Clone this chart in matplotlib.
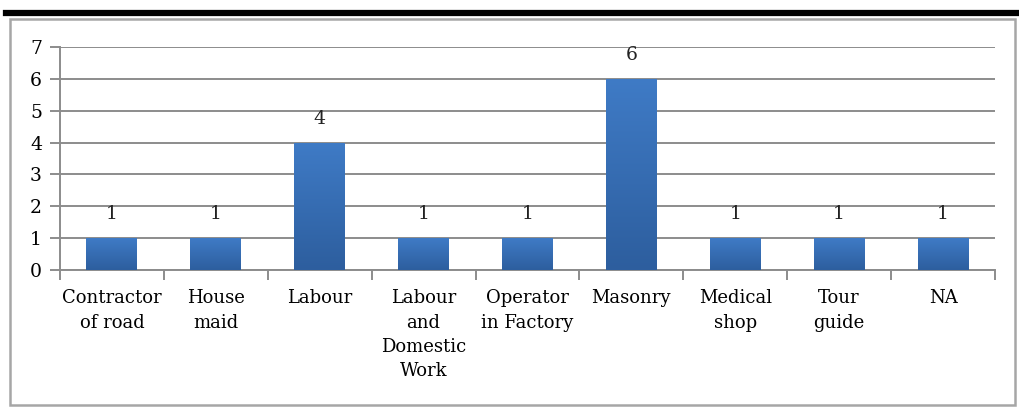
import numpy as np
import matplotlib.pyplot as plt
import matplotlib.ticker as mticker
from matplotlib.patches import Rectangle
from matplotlib.lines import Line2D


categories = ["Contractor\nof road", "House\nmaid", "Labour", "Labour\nand\nDomestic\nWork",
              "Operator\nin Factory", "Masonry", "Medical\nshop", "Tour\nguide", "NA"]
counts = [1, 1, 4, 1, 1, 6, 1, 1, 1]

plt.rcParams['font.family'] = ['DejaVu Serif']

fig = plt.figure(figsize=[10.2, 4.07], dpi=100)
ax = fig.add_axes([0.0588, 0.3366, 0.9167, 0.548])

# outer frame and heavy rule at the top
fig.add_artist(Line2D([0.006, 1.0], [0.969, 0.969], transform=fig.transFigure,
                      color="black", linewidth=4.5))
fig.add_artist(Rectangle((0.010, 0.006), 0.985, 0.947, transform=fig.transFigure,
                         fill=False, edgecolor="#a6a6a6", linewidth=1.8))

x = np.arange(len(categories))
width = 0.49
grad = np.linspace(0, 1, 256).reshape(-1, 1)
cmap = plt.matplotlib.colors.LinearSegmentedColormap.from_list("bl", ["#2d5e9e", "#3f7bc6"])

bars = ax.bar(x, counts, width=width, color="#3a70b8", zorder=3)
for b in bars:
	# vertical gradient inside each bar
	im = ax.imshow(grad, cmap=cmap, aspect="auto", origin="lower", zorder=3,
	               extent=[b.get_x(), b.get_x() + b.get_width(), 0, b.get_height()])
	im.set_clip_path(b)
	ax.text(b.get_x() + b.get_width() / 2, b.get_height() + 0.75, str(int(b.get_height())),
	        ha="center", va="center", fontsize=13.5, color="#222222")

ax.set_xlim(-0.5, len(categories) - 0.5)
ax.set_ylim(0, 7)
ax.yaxis.set_major_locator(mticker.MultipleLocator(1))
ax.grid(axis="y", color="#8c8c8c", linewidth=1.4, zorder=0)
ax.set_axisbelow(True)

ax.set_xticks(x)
ax.set_xticklabels(categories, fontsize=13, linespacing=1.45, va="top")
ax.set_xticks(np.arange(-0.5, len(categories), 1), minor=True)
ax.tick_params(axis="x", which="major", length=0, pad=14)
ax.tick_params(axis="x", which="minor", length=7, width=1.4, color="#8c8c8c", direction="out")
ax.tick_params(axis="y", length=7, width=1.4, color="#8c8c8c", labelsize=13.5, pad=6)

for s in ["top", "right"]:
	ax.spines[s].set_visible(False)
for s in ["left", "bottom"]:
	ax.spines[s].set_color("#8c8c8c")
	ax.spines[s].set_linewidth(1.4)

fig.savefig("out.png", dpi=100)
